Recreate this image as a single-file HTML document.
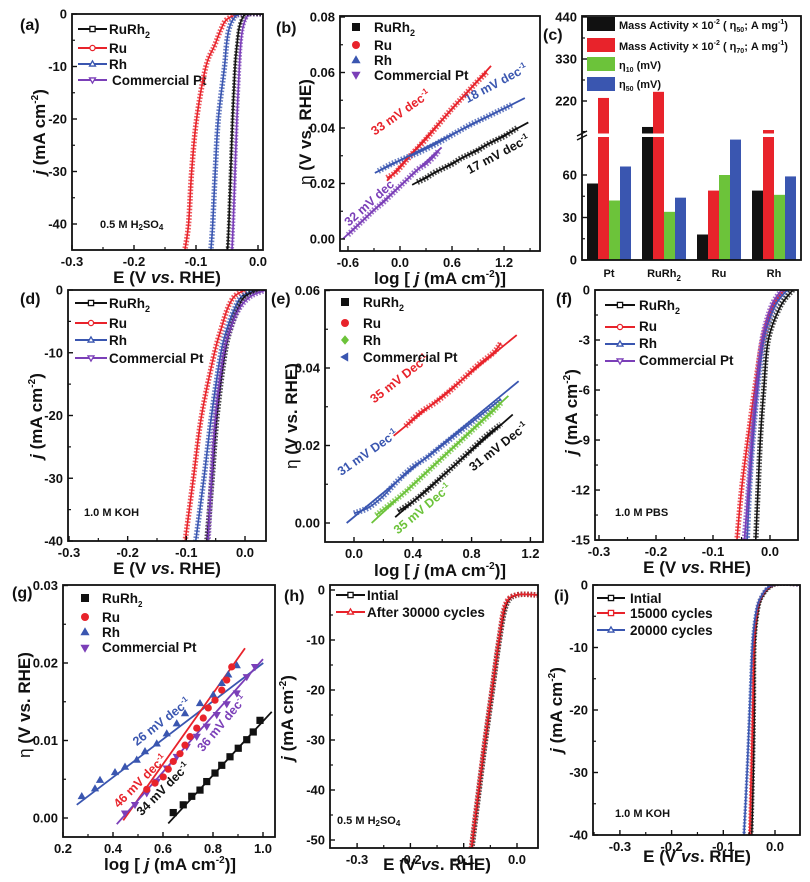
<!DOCTYPE html>
<html><head><meta charset="utf-8"><title>HER electrocatalysis figure</title>
<style>
html,body{margin:0;padding:0;background:#fff;}
svg{display:block;font-family:"Liberation Sans",Arial,sans-serif;}
.tl{font-size:13px;font-weight:bold;fill:#111;}
.at{font-size:17px;font-weight:bold;fill:#111;}
.lg{font-size:13.5px;font-weight:bold;fill:#111;}
.pl{font-size:16px;font-weight:bold;fill:#111;}
.an{font-size:12.5px;font-weight:bold;}
.sm{font-size:11px;font-weight:bold;fill:#111;}
</style></head>
<body>
<svg id="fig" width="810" height="882" viewBox="0 0 810 882">
<defs>
<clipPath id="ca"><rect x="72" y="14" width="191" height="236"/></clipPath>
<clipPath id="cb"><rect x="340" y="16" width="200" height="235"/></clipPath>
<clipPath id="cd"><rect x="68" y="290" width="198" height="251"/></clipPath>
<clipPath id="ce"><rect x="325" y="290" width="218" height="252"/></clipPath>
<clipPath id="cf"><rect x="595" y="290" width="203" height="250"/></clipPath>
<clipPath id="cg"><rect x="63" y="585" width="212" height="252"/></clipPath>
<clipPath id="ch"><rect x="330" y="585" width="208" height="263"/></clipPath>
<clipPath id="ci"><rect x="593" y="585" width="207" height="250"/></clipPath>
</defs>

<!-- panel letters -->
<text class="pl" x="20" y="30">(a)</text>
<text class="pl" x="276" y="33">(b)</text>
<text class="pl" x="543" y="40">(c)</text>
<text class="pl" x="20" y="304">(d)</text>
<text class="pl" x="271" y="304">(e)</text>
<text class="pl" x="556" y="304">(f)</text>
<text class="pl" x="12" y="598">(g)</text>
<text class="pl" x="284" y="601">(h)</text>
<text class="pl" x="554" y="601">(i)</text>

<!-- axis titles -->
<text class="at" x="167" y="283" text-anchor="middle">E (V <tspan font-style="italic">vs</tspan>. RHE)</text>
<text class="at" transform="translate(45,132) rotate(-90)" text-anchor="middle"><tspan font-style="italic">j</tspan> (mA cm<tspan font-size="10" dy="-7">-2</tspan><tspan dy="7">)</tspan></text>
<text class="at" x="440" y="284" text-anchor="middle">log [ <tspan font-style="italic">j</tspan> (mA cm<tspan font-size="10" dy="-7">-2</tspan><tspan dy="7">)]</tspan></text>
<text class="at" transform="translate(311,132) rotate(-90)" text-anchor="middle"><tspan font-weight="normal">η</tspan> (V vs. RHE)</text>
<text class="at" x="167" y="574" text-anchor="middle">E (V <tspan font-style="italic">vs</tspan>. RHE)</text>
<text class="at" transform="translate(42,416) rotate(-90)" text-anchor="middle"><tspan font-style="italic">j</tspan> (mA cm<tspan font-size="10" dy="-7">-2</tspan><tspan dy="7">)</tspan></text>
<text class="at" x="440" y="576" text-anchor="middle">log [ <tspan font-style="italic">j</tspan> (mA cm<tspan font-size="10" dy="-7">-2</tspan><tspan dy="7">)]</tspan></text>
<text class="at" transform="translate(297,416) rotate(-90)" text-anchor="middle"><tspan font-weight="normal">η</tspan> (V vs. RHE)</text>
<text class="at" x="697" y="573" text-anchor="middle">E (V <tspan font-style="italic">vs</tspan>. RHE)</text>
<text class="at" transform="translate(577,412) rotate(-90)" text-anchor="middle"><tspan font-style="italic">j</tspan> (mA cm<tspan font-size="10" dy="-7">-2</tspan><tspan dy="7">)</tspan></text>
<text class="at" x="170" y="870" text-anchor="middle">log [ <tspan font-style="italic">j</tspan> (mA cm<tspan font-size="10" dy="-7">-2</tspan><tspan dy="7">)]</tspan></text>
<text class="at" transform="translate(30,705) rotate(-90)" text-anchor="middle"><tspan font-weight="normal">η</tspan> (V vs. RHE)</text>
<text class="at" x="437" y="870" text-anchor="middle">E (V <tspan font-style="italic">vs</tspan>. RHE)</text>
<text class="at" transform="translate(293,718) rotate(-90)" text-anchor="middle"><tspan font-style="italic">j</tspan> (mA cm<tspan font-size="10" dy="-7">-2</tspan><tspan dy="7">)</tspan></text>
<text class="at" x="697" y="862" text-anchor="middle">E (V <tspan font-style="italic">vs</tspan>. RHE)</text>
<text class="at" transform="translate(562,710) rotate(-90)" text-anchor="middle"><tspan font-style="italic">j</tspan> (mA cm<tspan font-size="10" dy="-7">-2</tspan><tspan dy="7">)</tspan></text>

<!-- electrolyte notes -->
<text class="sm" x="100" y="228">0.5 M H<tspan font-size="8" dy="2">2</tspan><tspan dy="-2">SO</tspan><tspan font-size="8" dy="2">4</tspan></text>
<text class="sm" x="84" y="516">1.0 M KOH</text>
<text class="sm" x="615" y="516">1.0 M PBS</text>
<text class="sm" x="337" y="824">0.5 M H<tspan font-size="8" dy="2">2</tspan><tspan dy="-2">SO</tspan><tspan font-size="8" dy="2">4</tspan></text>
<text class="sm" x="615" y="817">1.0 M KOH</text>

<!-- slope annotations -->
<text class="an" fill="#e8232b" transform="translate(403,116) rotate(-35)" text-anchor="middle">33 mV dec<tspan font-size="8" dy="-5">-1</tspan></text>
<text class="an" fill="#3a56b0" transform="translate(498,87) rotate(-28)" text-anchor="middle">18 mV dec<tspan font-size="8" dy="-5">-1</tspan></text>
<text class="an" fill="#111" transform="translate(500,158) rotate(-28)" text-anchor="middle">17 mV dec<tspan font-size="8" dy="-5">-1</tspan></text>
<text class="an" fill="#7b3fb8" transform="translate(372,206) rotate(-42)" text-anchor="middle">32 mV dec</text>
<text class="an" fill="#e8232b" transform="translate(402,382) rotate(-38)" text-anchor="middle">35 mV Dec<tspan font-size="8" dy="-5">-1</tspan></text>
<text class="an" fill="#3a56b0" transform="translate(370,456) rotate(-35)" text-anchor="middle">31 mV Dec<tspan font-size="8" dy="-5">-1</tspan></text>
<text class="an" fill="#6cc33a" transform="translate(425,512) rotate(-40)" text-anchor="middle">35 mV Dec<tspan font-size="8" dy="-5">-1</tspan></text>
<text class="an" fill="#111" transform="translate(501,450) rotate(-38)" text-anchor="middle">31 mV Dec<tspan font-size="8" dy="-5">-1</tspan></text>
<text class="an" fill="#3a56b0" transform="translate(164,725) rotate(-38)" text-anchor="middle">26 mV dec<tspan font-size="8" dy="-5">-1</tspan></text>
<text class="an" fill="#e8232b" transform="translate(143,784) rotate(-45)" text-anchor="middle">46 mV dec<tspan font-size="8" dy="-5">-1</tspan></text>
<text class="an" fill="#7b3fb8" transform="translate(225,726) rotate(-50)" text-anchor="middle">36 mV dec<tspan font-size="8" dy="-5">-1</tspan></text>
<text class="an" fill="#111" transform="translate(166,792) rotate(-45)" text-anchor="middle">34 mV dec<tspan font-size="8" dy="-5">-1</tspan></text>

<!-- legends text -->
<g>
<text class="lg" x="109" y="34">RuRh<tspan font-size="9" dy="4">2</tspan></text>
<text class="lg" x="109" y="53">Ru</text>
<text class="lg" x="109" y="69">Rh</text>
<text class="lg" x="112" y="85">Commercial Pt</text>
</g>
<g>
<text class="lg" x="374" y="32">RuRh<tspan font-size="9" dy="4">2</tspan></text>
<text class="lg" x="374" y="50">Ru</text>
<text class="lg" x="374" y="65">Rh</text>
<text class="lg" x="374" y="80">Commercial Pt</text>
</g>
<g>
<text class="sm" x="619" y="29" font-size="11.5">Mass Activity × 10<tspan font-size="7" dy="-5">-2</tspan><tspan dy="5"> ( η</tspan><tspan font-size="7" dy="3">50</tspan><tspan dy="-3">; A mg</tspan><tspan font-size="7" dy="-5">-1</tspan><tspan dy="5">)</tspan></text>
<text class="sm" x="619" y="50" font-size="11.5">Mass Activity × 10<tspan font-size="7" dy="-5">-2</tspan><tspan dy="5"> ( η</tspan><tspan font-size="7" dy="3">70</tspan><tspan dy="-3">; A mg</tspan><tspan font-size="7" dy="-5">-1</tspan><tspan dy="5">)</tspan></text>
<text class="sm" x="619" y="69" font-size="11.5">η<tspan font-size="7" dy="3">10</tspan><tspan dy="-3"> (mV)</tspan></text>
<text class="sm" x="619" y="88" font-size="11.5">η<tspan font-size="7" dy="3">50</tspan><tspan dy="-3"> (mV)</tspan></text>
</g>
<g>
<text class="lg" x="109" y="308">RuRh<tspan font-size="9" dy="4">2</tspan></text>
<text class="lg" x="109" y="328">Ru</text>
<text class="lg" x="109" y="345">Rh</text>
<text class="lg" x="109" y="363">Commercial Pt</text>
</g>
<g>
<text class="lg" x="363" y="307">RuRh<tspan font-size="9" dy="4">2</tspan></text>
<text class="lg" x="363" y="328">Ru</text>
<text class="lg" x="363" y="345">Rh</text>
<text class="lg" x="363" y="362">Commercial Pt</text>
</g>
<g>
<text class="lg" x="639" y="310">RuRh<tspan font-size="9" dy="4">2</tspan></text>
<text class="lg" x="639" y="331">Ru</text>
<text class="lg" x="639" y="348">Rh</text>
<text class="lg" x="639" y="365">Commercial Pt</text>
</g>
<g>
<text class="lg" x="102" y="603" font-size="12.5">RuRh<tspan font-size="8" dy="4">2</tspan></text>
<text class="lg" x="102" y="622" font-size="12.5">Ru</text>
<text class="lg" x="102" y="637" font-size="12.5">Rh</text>
<text class="lg" x="102" y="652" font-size="12.5">Commercial Pt</text>
</g>
<g>
<text class="lg" x="367" y="600">Intial</text>
<text class="lg" x="367" y="617">After 30000 cycles</text>
</g>
<g>
<text class="lg" x="630" y="603">Intial</text>
<text class="lg" x="630" y="618">15000 cycles</text>
<text class="lg" x="630" y="635">20000 cycles</text>
</g>
</svg>

<script>
// ---------------- DATA ----------------
// (a) 0.5 M H2SO4 polarization: current densities and potentials
const aJ = [0, 0, -1, -3, -6, -10, -20, -30, -40, -45];
const aRuRh2 = [0.01, -0.018, -0.026, -0.031, -0.034, -0.037, -0.041, -0.044, -0.047, -0.049];
const aRu = [0.01, -0.028, -0.05, -0.06, -0.07, -0.084, -0.099, -0.107, -0.112, -0.118];
const aRh = [0.01, -0.028, -0.04, -0.047, -0.051, -0.054, -0.064, -0.069, -0.073, -0.076];
const aPt = [0.01, -0.012, -0.02, -0.025, -0.028, -0.030, -0.034, -0.037, -0.040, -0.042];
const aXTicks = [-0.3, -0.2, -0.1, 0.0];
const aXLabels = ["-0.3", "-0.2", "-0.1", "0.0"];
const aYTicks = [0, -10, -20, -30, -40];
const aYLabels = ["0", "-10", "-20", "-30", "-40"];

// (b) Tafel, acid
const bRuX = [-0.15, -0.05, 0.05, 0.15, 0.3, 0.45, 0.6, 0.75, 0.9, 1.0];
const bRuY = [0.022, 0.024, 0.0275, 0.031, 0.036, 0.0415, 0.047, 0.052, 0.057, 0.060];
const bRhX = [-0.25, -0.1, 0.05, 0.2, 0.4, 0.6, 0.8, 1.0, 1.2, 1.3];
const bRhY = [0.0245, 0.027, 0.029, 0.031, 0.034, 0.0375, 0.041, 0.044, 0.047, 0.0485];
const bRuRh2X = [0.2, 0.3, 0.4, 0.5, 0.6, 0.7, 0.8, 0.9, 1.0, 1.1, 1.2, 1.3, 1.35];
const bRuRh2Y = [0.0205, 0.022, 0.024, 0.0255, 0.027, 0.029, 0.0305, 0.032, 0.034, 0.0355, 0.037, 0.039, 0.040];
const bPtX = [-0.6, -0.5, -0.4, -0.3, -0.2, -0.1, 0.0, 0.1, 0.2, 0.3, 0.4, 0.45];
const bPtY = [0.0015, 0.0045, 0.0075, 0.0105, 0.013, 0.016, 0.019, 0.022, 0.025, 0.027, 0.030, 0.032];
const bRuFitX = [-0.15, 1.05], bRuFitY = [0.021, 0.0624];
const bRhFitX = [-0.29, 1.44], bRhFitY = [0.0238, 0.0508];
const bRuRh2FitX = [0.14, 1.48], bRuRh2FitY = [0.0195, 0.042];
const bPtFitX = [-0.66, 0.48], bPtFitY = [0.0, 0.033];
const bXTicks = [-0.6, 0.0, 0.6, 1.2];
const bXLabels = ["-0.6", "0.0", "0.6", "1.2"];
const bYTicks = [0.0, 0.02, 0.04, 0.06, 0.08];
const bYLabels = ["0.00", "0.02", "0.04", "0.06", "0.08"];

// (c) bar chart
const cCategories = ["Pt", "RuRh2", "Ru", "Rh"];
const cMass50 = [54, 152, 18, 49];
const cMass70 = [228, 244, 49, 144];
const cEta10 = [42, 34, 60, 46];
const cEta50 = [66, 44, 85, 59];
const cYTicks = [0, 30, 60, 220, 330, 440];
const cYLabels = ["0", "30", "60", "220", "330", "440"];

// (d) 1.0 M KOH polarization
const dJ = [0, -1, -3, -6, -10, -20, -30, -40];
const dRu = [0.0, -0.018, -0.03, -0.04, -0.052, -0.074, -0.088, -0.102];
const dRh = [0.02, -0.005, -0.018, -0.03, -0.041, -0.057, -0.070, -0.084];
const dRuRh2 = [0.025, 0.0, -0.012, -0.024, -0.034, -0.0475, -0.056, -0.065];
const dPt = [0.036, 0.01, -0.01, -0.024, -0.036, -0.05, -0.057, -0.063];
const dXTicks = [-0.3, -0.2, -0.1, 0.0];
const dXLabels = ["-0.3", "-0.2", "-0.1", "0.0"];
const dYTicks = [0, -10, -20, -30, -40];
const dYLabels = ["0", "-10", "-20", "-30", "-40"];

// (e) Tafel, KOH
const eRuX = [0.35, 0.45, 0.55, 0.65, 0.75, 0.85, 0.95, 1.0];
const eRuY = [0.025, 0.0285, 0.031, 0.034, 0.0375, 0.041, 0.044, 0.0465];
const ePtX = [0.0, 0.1, 0.2, 0.3, 0.4, 0.5, 0.6, 0.7, 0.8, 0.9, 1.0];
const ePtY = [0.0025, 0.004, 0.007, 0.011, 0.0145, 0.017, 0.020, 0.023, 0.026, 0.029, 0.032];
const eRhX = [0.15, 0.25, 0.35, 0.45, 0.55, 0.65, 0.75, 0.85, 0.95, 1.0];
const eRhY = [0.002, 0.005, 0.008, 0.0115, 0.015, 0.0185, 0.022, 0.0255, 0.029, 0.031];
const eRuRh2X = [0.3, 0.4, 0.5, 0.6, 0.7, 0.8, 0.9, 1.0];
const eRuRh2Y = [0.003, 0.0055, 0.0085, 0.012, 0.0155, 0.019, 0.0225, 0.0255];
const eRuFitX = [0.27, 1.107], eRuFitY = [0.0225, 0.0485];
const ePtFitX = [-0.05, 1.12], ePtFitY = [0.0, 0.0366];
const eRhFitX = [0.12, 1.05], eRhFitY = [0.0, 0.0328];
const eRuRh2FitX = [0.28, 1.08], eRuRh2FitY = [0.0015, 0.028];
const eXTicks = [0.0, 0.4, 0.8, 1.2];
const eXLabels = ["0.0", "0.4", "0.8", "1.2"];
const eYTicks = [0.0, 0.02, 0.04, 0.06];
const eYLabels = ["0.00", "0.02", "0.04", "0.06"];

// (f) 1.0 M PBS polarization
const fJ = [0, -1, -3, -6, -9, -12, -15];
const fRu = [0.025, 0.005, -0.013, -0.027, -0.039, -0.05, -0.058];
const fPt = [0.02, 0.002, -0.014, -0.024, -0.032, -0.038, -0.045];
const fRh = [0.03, 0.008, -0.011, -0.022, -0.03, -0.036, -0.04];
const fRuRh2 = [0.04, 0.018, -0.003, -0.011, -0.017, -0.021, -0.025];
const fXTicks = [-0.3, -0.2, -0.1, 0.0];
const fXLabels = ["-0.3", "-0.2", "-0.1", "0.0"];
const fYTicks = [0, -3, -6, -9, -12, -15];
const fYLabels = ["0", "-3", "-6", "-9", "-12", "-15"];

// (g) Tafel, PBS
const gRhX = [0.275, 0.328, 0.348, 0.408, 0.448, 0.495, 0.528, 0.575, 0.615, 0.655, 0.688, 0.748, 0.801, 0.835, 0.861, 0.895];
const gRhY = [0.0028, 0.0038, 0.0049, 0.0059, 0.0066, 0.0075, 0.0086, 0.0096, 0.0109, 0.0122, 0.0135, 0.0148, 0.0159, 0.0174, 0.0185, 0.0197];
const gRuX = [0.535, 0.568, 0.601, 0.621, 0.641, 0.668, 0.688, 0.708, 0.735, 0.761, 0.781, 0.808, 0.835, 0.855, 0.875];
const gRuY = [0.0037, 0.0045, 0.0053, 0.0063, 0.0073, 0.0083, 0.0094, 0.0105, 0.0116, 0.0129, 0.0142, 0.0152, 0.0165, 0.0178, 0.0195];
const gPtX = [0.448, 0.488, 0.535, 0.575, 0.615, 0.655, 0.695, 0.735, 0.775, 0.815, 0.855, 0.895, 0.935, 0.968];
const gPtY = [0.0006, 0.0017, 0.0032, 0.0047, 0.0064, 0.0079, 0.0092, 0.0105, 0.0118, 0.0133, 0.0147, 0.0161, 0.0182, 0.0195];
const gRuRh2X = [0.641, 0.681, 0.715, 0.748, 0.775, 0.808, 0.835, 0.868, 0.901, 0.935, 0.961, 0.988];
const gRuRh2Y = [0.0007, 0.0017, 0.0028, 0.0036, 0.0047, 0.0058, 0.0068, 0.0079, 0.0090, 0.0101, 0.0111, 0.0126];
const gRhFitX = [0.255, 1.001], gRhFitY = [0.0017, 0.020];
const gRuFitX = [0.441, 0.928], gRuFitY = [-0.0003, 0.0219];
const gPtFitX = [0.415, 1.0], gPtFitY = [-0.0008, 0.0205];
const gRuRh2FitX = [0.621, 1.035], gRuRh2FitY = [-0.0007, 0.0137];
const gXTicks = [0.2, 0.4, 0.6, 0.8, 1.0];
const gXLabels = ["0.2", "0.4", "0.6", "0.8", "1.0"];
const gYTicks = [0.0, 0.01, 0.02, 0.03];
const gYLabels = ["0.00", "0.01", "0.02", "0.03"];

// (h) stability, acid
const hJ = [-1, -1, -3, -10, -20, -30, -40, -52];
const hInitial = [0.04, 0.0, -0.02, -0.033, -0.046, -0.059, -0.071, -0.085];
const hAfter = [0.04, -0.002, -0.022, -0.034, -0.047, -0.060, -0.072, -0.086];
const hXTicks = [-0.3, -0.2, -0.1, 0.0];
const hXLabels = ["-0.3", "-0.2", "-0.1", "0.0"];
const hYTicks = [0, -10, -20, -30, -40, -50];
const hYLabels = ["0", "-10", "-20", "-30", "-40", "-50"];

// (i) stability, KOH
const iJ = [0, 0, -2, -5, -10, -20, -30, -40];
const iInitial = [0.05, 0.0, -0.025, -0.034, -0.039, -0.040, -0.042, -0.045];
const i15000 = [0.05, -0.003, -0.027, -0.036, -0.041, -0.043, -0.046, -0.049];
const i20000 = [0.05, -0.005, -0.028, -0.038, -0.044, -0.049, -0.054, -0.060];
const iXTicks = [-0.3, -0.2, -0.1, 0.0];
const iXLabels = ["-0.3", "-0.2", "-0.1", "0.0"];
const iYTicks = [0, -10, -20, -30, -40];
const iYLabels = ["0", "-10", "-20", "-30", "-40"];

// ---------------- DRAWING ----------------
const NS = 'http://www.w3.org/2000/svg';
const svg = document.getElementById('fig');
const C = {k: '#111111', r: '#e8232b', b: '#3a56b0', p: '#7b3fb8', g: '#6cc33a'};

function mk(tag, parent) {
  const e = document.createElementNS(NS, tag);
  (parent || svg).appendChild(e);
  return e;
}
function group(name) {
  const g = mk('g');
  
  
  return g;
}
function ln(g, x1, y1, x2, y2, color, w, name) {
  const l = mk('line', g);
  l.setAttribute('x1', x1); l.setAttribute('y1', y1);
  l.setAttribute('x2', x2); l.setAttribute('y2', y2);
  l.setAttribute('stroke', color); l.setAttribute('stroke-width', w);
  
  
  return l;
}
function txt(g, x, y, s, anchor, name) {
  const t = mk('text', g);
  t.setAttribute('x', x); t.setAttribute('y', y);
  t.setAttribute('class', 'tl');
  t.setAttribute('text-anchor', anchor);
  t.textContent = s;
  
  
  return t;
}

function axes(id, f, sx, sy, xt, xl, yt, yl) {
  const g = group(id + '-axes');
  const [L, T, R, B] = f;
  const fr = mk('rect', g);
  fr.setAttribute('x', L); fr.setAttribute('y', T);
  fr.setAttribute('width', R - L); fr.setAttribute('height', B - T);
  fr.setAttribute('fill', 'none'); fr.setAttribute('stroke', '#111'); fr.setAttribute('stroke-width', 1.8);
  
  
  if (xt) {
    xt.forEach((v, i) => {
      const x = sx(v);
      ln(g, x, B, x, B - 5, '#111', 1.4, id + '-x-tick');
      txt(g, x, B + 16, xl[i], 'middle', id + '-x-tick-label');
      const nx = i < xt.length - 1 ? (v + xt[i + 1]) / 2 : v + (v - xt[i - 1]) / 2;
      const mx = sx(nx);
      if (mx > L + 1 && mx < R - 1) ln(g, mx, B, mx, B - 3, '#111', 1.2, id + '-x-minor-tick');
      if (i === 0) { const px = sx(v - (xt[1] - v) / 2); if (px > L + 1) ln(g, px, B, px, B - 3, '#111', 1.2, id + '-x-minor-tick'); }
    });
  }
  yt.forEach((v, i) => {
    const y = sy(v);
    ln(g, L, y, L + 5, y, '#111', 1.4, id + '-y-tick');
    txt(g, L - 5, y + 4.5, yl[i], 'end', id + '-y-tick-label');
    if (i < yt.length - 1) {
      const my = sy((v + yt[i + 1]) / 2);
      ln(g, L, my, L + 3, my, '#111', 1.2, id + '-y-minor-tick');
    } else {
      const my = sy(v + (v - yt[i - 1]) / 2);
      if (my > T + 1 && my < B - 1) ln(g, L, my, L + 3, my, '#111', 1.2, id + '-y-minor-tick');
    }
    if (i === 0) { const my = sy(v - (yt[1] - v) / 2); if (my > T + 1 && my < B - 1) ln(g, L, my, L + 3, my, '#111', 1.2, id + '-y-minor-tick'); }
  });
}

function smooth(pts) {
  let d = 'M' + pts[0][0].toFixed(2) + ',' + pts[0][1].toFixed(2);
  for (let i = 0; i < pts.length - 1; i++) {
    const p0 = pts[i - 1] || pts[i], p1 = pts[i], p2 = pts[i + 1], p3 = pts[i + 2] || p2;
    const c1 = [p1[0] + (p2[0] - p0[0]) / 6, p1[1] + (p2[1] - p0[1]) / 6];
    const c2 = [p2[0] - (p3[0] - p1[0]) / 6, p2[1] - (p3[1] - p1[1]) / 6];
    d += ' C' + c1[0].toFixed(2) + ',' + c1[1].toFixed(2) + ' ' + c2[0].toFixed(2) + ',' + c2[1].toFixed(2) + ' ' + p2[0].toFixed(2) + ',' + p2[1].toFixed(2);
  }
  return d;
}

// dense-marker curve: base line + thick dashed overlay imitating many open markers
function markerCurve(clip, sx, sy, xs, ys, color, name, mw) {
  const g = mk('g');
  g.setAttribute('clip-path', 'url(#' + clip + ')');
  
  
  const pts = xs.map((x, i) => [sx(x), sy(ys[i])]);
  const d = smooth(pts);
  const m = mk('path', g);
  m.setAttribute('d', d); m.setAttribute('fill', 'none');
  m.setAttribute('stroke', color); m.setAttribute('stroke-width', mw || 5.5);
  m.setAttribute('stroke-dasharray', '1.6 1.6'); m.setAttribute('opacity', '0.75');
  
  
  const p = mk('path', g);
  p.setAttribute('d', d); p.setAttribute('fill', 'none');
  p.setAttribute('stroke', color); p.setAttribute('stroke-width', 1.6);
  
  
}

function fitLine(clip, sx, sy, fx, fy, color, name) {
  const g = mk('g');
  g.setAttribute('clip-path', 'url(#' + clip + ')');
  
  
  ln(g, sx(fx[0]), sy(fy[0]), sx(fx[1]), sy(fy[1]), color, 1.8, name + '-segment');
}

function marker(g, shape, x, y, s, color, name) {
  let e;
  if (shape === 'sq') {
    e = mk('rect', g);
    e.setAttribute('x', x - s); e.setAttribute('y', y - s);
    e.setAttribute('width', 2 * s); e.setAttribute('height', 2 * s);
  } else if (shape === 'ci') {
    e = mk('circle', g);
    e.setAttribute('cx', x); e.setAttribute('cy', y); e.setAttribute('r', s);
  } else {
    e = mk('polygon', g);
    let p;
    if (shape === 'tu') p = [[x, y - s * 1.2], [x - s * 1.15, y + s * 0.8], [x + s * 1.15, y + s * 0.8]];
    else if (shape === 'td') p = [[x, y + s * 1.2], [x - s * 1.15, y - s * 0.8], [x + s * 1.15, y - s * 0.8]];
    else if (shape === 'tl') p = [[x - s * 1.2, y], [x + s * 0.8, y - s * 1.15], [x + s * 0.8, y + s * 1.15]];
    else p = [[x, y - s * 1.2], [x + s, y], [x, y + s * 1.2], [x - s, y]];
    e.setAttribute('points', p.map(q => q.join(',')).join(' '));
  }
  e.setAttribute('fill', color);
  
  
  return e;
}

function scatter(clip, sx, sy, xs, ys, shape, color, name) {
  const g = mk('g');
  g.setAttribute('clip-path', 'url(#' + clip + ')');
  
  
  xs.forEach((x, i) => marker(g, shape, sx(x), sy(ys[i]), 3.6, color, name + '-point'));
}

function lineLegend(x1, x2, y, color, shape, name) {
  const g = group(name);
  ln(g, x1, y, x2, y, color, 2, name + '-line');
  const m = marker(g, shape, (x1 + x2) / 2, y, 2.6, '#fff', name + '-symbol');
  m.setAttribute('stroke', color); m.setAttribute('stroke-width', 1.3);
}
function symLegend(x, y, shape, color, name) {
  const g = group(name);
  marker(g, shape, x, y, 4, color, name + '-symbol');
}

// ---------- panel scales ----------
const aF = [72, 14, 263, 250], aX = v => 72 + (v + 0.3) * 620, aY = v => 14 - v * 5.25;
const bF = [340, 16, 540, 251], bX = v => 400 + v * 86.7, bY = v => 239 - v * 2775;
const dF = [68, 290, 266, 541], dX = v => 69 + (v + 0.3) * 586.7, dY = v => 290 - v * 6.275;
const eF = [325, 290, 543, 542], eX = v => 354 + v * 147, eY = v => 523 - v * 3875;
const fF = [595, 290, 798, 540], fX = v => 770 + v * 570, fY = v => 290 - v * 16.67;
const gF = [63, 585, 275, 837], gX = v => 63 + (v - 0.2) * 250, gY = v => 818 - v * 7750;
const hF = [330, 585, 538, 848], hX = v => 517 + v * 533, hY = v => 590 - v * 5;
const iF = [593, 585, 800, 835], iX = v => 775 + v * 517, iY = v => 585 - v * 6.25;
const cF = [582, 16, 801, 260];
const cY = v => v <= 90 ? 260 - v * 42.5 / 30 : 101 - (v - 220) * 42 / 110;

// ---------- (a) ----------
markerCurve('ca', aX, aY, aRu, aJ, C.r, 'a-ru-curve');
markerCurve('ca', aX, aY, aRh, aJ, C.b, 'a-rh-curve');
markerCurve('ca', aX, aY, aPt, aJ, C.p, 'a-pt-curve', 4);
markerCurve('ca', aX, aY, aRuRh2, aJ, C.k, 'a-rurh2-curve', 4);
axes('a', aF, aX, aY, aXTicks, aXLabels, aYTicks, aYLabels);
lineLegend(78, 107, 29, C.k, 'sq', 'a-legend-rurh2');
lineLegend(78, 107, 48, C.r, 'ci', 'a-legend-ru');
lineLegend(78, 107, 64, C.b, 'tu', 'a-legend-rh');
lineLegend(78, 107, 80, C.p, 'td', 'a-legend-pt');

// ---------- (b) ----------
markerCurve('cb', bX, bY, bRuX, bRuY, C.r, 'b-ru-data', 6);
markerCurve('cb', bX, bY, bRhX, bRhY, C.b, 'b-rh-data', 6);
markerCurve('cb', bX, bY, bPtX, bPtY, C.p, 'b-pt-data', 6);
markerCurve('cb', bX, bY, bRuRh2X, bRuRh2Y, C.k, 'b-rurh2-data', 6);
fitLine('cb', bX, bY, bRuFitX, bRuFitY, C.r, 'b-ru-fit');
fitLine('cb', bX, bY, bRhFitX, bRhFitY, C.b, 'b-rh-fit');
fitLine('cb', bX, bY, bPtFitX, bPtFitY, C.p, 'b-pt-fit');
fitLine('cb', bX, bY, bRuRh2FitX, bRuRh2FitY, C.k, 'b-rurh2-fit');
axes('b', bF, bX, bY, bXTicks, bXLabels, bYTicks, bYLabels);
symLegend(356, 27, 'sq', C.k, 'b-legend-rurh2');
symLegend(356, 45, 'ci', C.r, 'b-legend-ru');
symLegend(356, 60, 'tu', C.b, 'b-legend-rh');
symLegend(356, 75, 'td', C.p, 'b-legend-pt');

// ---------- (c) bar chart ----------
(function () {
  const g = group('c-bars');
  const centers = [609, 664, 719, 774];
  const bw = 11;
  const series = [cMass50, cMass70, cEta10, cEta50];
  const cols = [C.k, C.r, C.g, C.b];
  const names = ['mass-activity-50', 'mass-activity-70', 'eta10', 'eta50'];
  cCategories.forEach((cat, ci) => {
    series.forEach((s, si) => {
      const x = centers[ci] + (si - 2) * bw;
      const yTop = cY(s[ci]);
      const r = mk('rect', g);
      r.setAttribute('x', x); r.setAttribute('y', yTop);
      r.setAttribute('width', bw); r.setAttribute('height', 260 - yTop);
      r.setAttribute('fill', cols[si]);
      
      
    });
    const t = mk('text', g);
    t.setAttribute('x', centers[ci]); t.setAttribute('y', 277);
    t.setAttribute('class', 'sm'); t.setAttribute('font-size', '12');
    t.setAttribute('text-anchor', 'middle');
    t.textContent = cat === 'RuRh2' ? 'RuRh' : cat;
    if (cat === 'RuRh2') { const ts = mk('tspan', t); ts.setAttribute('font-size', '8'); ts.setAttribute('dy', '4'); ts.textContent = '2'; }
    
    
  });
  // break band
  const br = mk('rect', g);
  br.setAttribute('x', 583); br.setAttribute('y', 133.5); br.setAttribute('width', 217); br.setAttribute('height', 3.5);
  br.setAttribute('fill', '#fff');
  
  
  axes('c', cF, null, cY, null, null, cYTicks, cYLabels);
  const bg = group('c-axis-break-mark');
  ln(bg, 577, 136, 587, 131, '#111', 1.4, 'c-break-slash');
  ln(bg, 577, 140, 587, 135, '#111', 1.4, 'c-break-slash');
  // legend swatches
  const lg = group('c-legend-swatches');
  [[17, C.k], [38, C.r], [57, C.g], [77, C.b]].forEach(([y, col]) => {
    const r = mk('rect', lg);
    r.setAttribute('x', 587); r.setAttribute('y', y); r.setAttribute('width', 28); r.setAttribute('height', 14);
    r.setAttribute('fill', col);
    
    
  });
})();

// ---------- (d) ----------
markerCurve('cd', dX, dY, dRu, dJ, C.r, 'd-ru-curve');
markerCurve('cd', dX, dY, dRh, dJ, C.b, 'd-rh-curve');
markerCurve('cd', dX, dY, dRuRh2, dJ, C.k, 'd-rurh2-curve');
markerCurve('cd', dX, dY, dPt, dJ, C.p, 'd-pt-curve');
axes('d', dF, dX, dY, dXTicks, dXLabels, dYTicks, dYLabels);
lineLegend(75, 107, 303, C.k, 'sq', 'd-legend-rurh2');
lineLegend(75, 107, 323, C.r, 'ci', 'd-legend-ru');
lineLegend(75, 107, 340, C.b, 'tu', 'd-legend-rh');
lineLegend(75, 107, 358, C.p, 'td', 'd-legend-pt');

// ---------- (e) ----------
markerCurve('ce', eX, eY, eRuX, eRuY, C.r, 'e-ru-data', 6);
markerCurve('ce', eX, eY, ePtX, ePtY, C.b, 'e-pt-data', 6);
markerCurve('ce', eX, eY, eRhX, eRhY, C.g, 'e-rh-data', 6);
markerCurve('ce', eX, eY, eRuRh2X, eRuRh2Y, C.k, 'e-rurh2-data', 6);
fitLine('ce', eX, eY, eRuFitX, eRuFitY, C.r, 'e-ru-fit');
fitLine('ce', eX, eY, ePtFitX, ePtFitY, C.b, 'e-pt-fit');
fitLine('ce', eX, eY, eRhFitX, eRhFitY, C.g, 'e-rh-fit');
fitLine('ce', eX, eY, eRuRh2FitX, eRuRh2FitY, C.k, 'e-rurh2-fit');
axes('e', eF, eX, eY, eXTicks, eXLabels, eYTicks, eYLabels);
symLegend(345, 302, 'sq', C.k, 'e-legend-rurh2');
symLegend(345, 323, 'ci', C.r, 'e-legend-ru');
symLegend(345, 340, 'di', C.g, 'e-legend-rh');
symLegend(345, 357, 'tl', C.b, 'e-legend-pt');

// ---------- (f) ----------
markerCurve('cf', fX, fY, fRu, fJ, C.r, 'f-ru-curve');
markerCurve('cf', fX, fY, fRh, fJ, C.b, 'f-rh-curve');
markerCurve('cf', fX, fY, fPt, fJ, C.p, 'f-pt-curve');
markerCurve('cf', fX, fY, fRuRh2, fJ, C.k, 'f-rurh2-curve');
axes('f', fF, fX, fY, fXTicks, fXLabels, fYTicks, fYLabels);
lineLegend(605, 635, 305, C.k, 'sq', 'f-legend-rurh2');
lineLegend(605, 635, 327, C.r, 'ci', 'f-legend-ru');
lineLegend(605, 635, 344, C.b, 'tu', 'f-legend-rh');
lineLegend(605, 635, 361, C.p, 'td', 'f-legend-pt');

// ---------- (g) ----------
fitLine('cg', gX, gY, gRhFitX, gRhFitY, C.b, 'g-rh-fit');
fitLine('cg', gX, gY, gRuFitX, gRuFitY, C.r, 'g-ru-fit');
fitLine('cg', gX, gY, gPtFitX, gPtFitY, C.p, 'g-pt-fit');
fitLine('cg', gX, gY, gRuRh2FitX, gRuRh2FitY, C.k, 'g-rurh2-fit');
scatter('cg', gX, gY, gRhX, gRhY, 'tu', C.b, 'g-rh-points');
scatter('cg', gX, gY, gPtX, gPtY, 'td', C.p, 'g-pt-points');
scatter('cg', gX, gY, gRuX, gRuY, 'ci', C.r, 'g-ru-points');
scatter('cg', gX, gY, gRuRh2X, gRuRh2Y, 'sq', C.k, 'g-rurh2-points');
axes('g', gF, gX, gY, gXTicks, gXLabels, gYTicks, gYLabels);
symLegend(85, 598, 'sq', C.k, 'g-legend-rurh2');
symLegend(85, 617, 'ci', C.r, 'g-legend-ru');
symLegend(85, 632, 'tu', C.b, 'g-legend-rh');
symLegend(85, 648, 'td', C.p, 'g-legend-pt');

// ---------- (h) ----------
markerCurve('ch', hX, hY, hInitial, hJ, C.k, 'h-initial-curve');
markerCurve('ch', hX, hY, hAfter, hJ, C.r, 'h-after-30000-curve');
axes('h', hF, hX, hY, hXTicks, hXLabels, hYTicks, hYLabels);
lineLegend(336, 365, 595, C.k, 'sq', 'h-legend-initial');
lineLegend(336, 365, 612, C.r, 'tu', 'h-legend-after');

// ---------- (i) ----------
markerCurve('ci', iX, iY, iInitial, iJ, C.k, 'i-initial-curve', 3.5);
markerCurve('ci', iX, iY, i15000, iJ, C.r, 'i-15000-curve', 3.5);
markerCurve('ci', iX, iY, i20000, iJ, C.b, 'i-20000-curve', 3.5);
axes('i', iF, iX, iY, iXTicks, iXLabels, iYTicks, iYLabels);
lineLegend(597, 625, 598, C.k, 'sq', 'i-legend-initial');
lineLegend(597, 625, 613, C.r, 'sq', 'i-legend-15000');
lineLegend(597, 625, 630, C.b, 'tu', 'i-legend-20000');
</script>
</body></html>
